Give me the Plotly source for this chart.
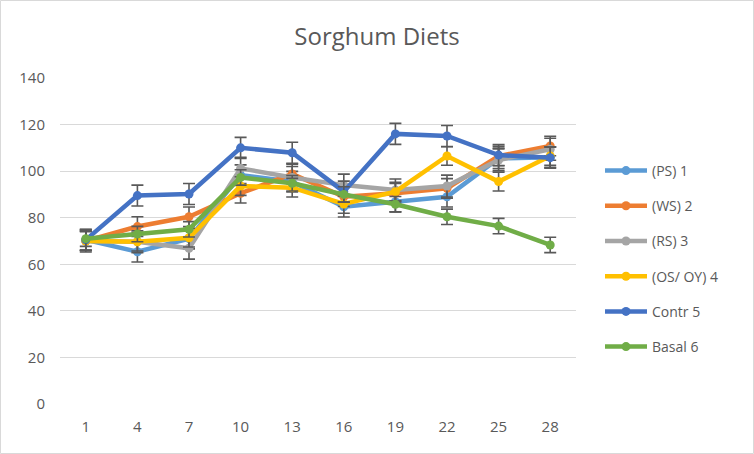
import plotly.graph_objects as go

days = ["1", "4", "7", "10", "13", "16", "19", "22", "25", "28"]
ps = [70.5, 65.4, 71.0, 98.3, 95.5, 84.7, 86.9, 89.0, 105.5, 106.0]
ws = [70.0, 76.2, 80.4, 90.5, 98.8, 89.0, 90.5, 92.6, 106.5, 110.8]
rs = [70.0, 69.7, 66.9, 101.2, 97.3, 94.0, 91.9, 93.6, 104.8, 109.4]
os_oy = [70.0, 69.7, 71.4, 93.6, 92.9, 85.9, 91.2, 106.5, 95.5, 106.5]
contr = [70.5, 89.5, 90.2, 110.0, 107.9, 91.2, 116.0, 115.1, 106.9, 105.8]
basal = [71.0, 73.0, 75.0, 97.3, 94.8, 90.0, 85.8, 80.4, 76.4, 68.3]
names = ["(PS) 1", "(WS) 2", "(RS) 3", "(OS/ OY) 4", "Contr 5", "Basal 6"]
errors = [4.4, 4.2, 4.7, 4.0, 4.5, 3.3]

series = [ps, ws, rs, os_oy, contr, basal]
colors = ["#5B9BD5", "#ED7D31", "#A5A5A5", "#FFC000", "#4472C4", "#70AD47"]

fig = go.Figure()
for i, (name, vals, col, err) in enumerate(zip(names, series, colors, errors)):
    fig.add_trace(go.Scatter(
        x=days, y=vals, name=name, mode="lines+markers",
        line=dict(color=col, width=4.5),
        marker=dict(color=col, size=9, symbol="circle"),
        error_y=dict(type="constant", value=err, color="#595959",
                     thickness=1.6, width=6),
        legendgroup=f"g{i}",
    ))

W, H = 754, 454
L, R, T, B = 60, 178, 78, 50
pw, ph = W - L - R, H - T - B

fig.update_layout(
    width=W, height=H, autosize=False,
    margin=dict(l=L, r=R, t=T, b=B, autoexpand=False),
    paper_bgcolor="white", plot_bgcolor="white",
    font=dict(family="Open Sans, Liberation Sans, sans-serif", color="#595959"),
    title=dict(text="Sorghum Diets", x=0.5, xref="container", xanchor="center",
               y=1 - 37 / H, yref="container", yanchor="middle",
               font=dict(size=24, color="#595959")),
    xaxis=dict(type="category", range=[-0.5, len(days) - 0.5], showgrid=False,
               zeroline=False, showline=False, ticks="", automargin=False,
               tickfont=dict(size=15, color="#595959"), ticklabelstandoff=12),
    yaxis=dict(range=[0, 140], dtick=20, showgrid=True, gridcolor="#D9D9D9",
               gridwidth=1.3, zeroline=False, showline=False, ticks="", automargin=False,
               tickfont=dict(size=15, color="#595959"), ticklabelstandoff=14),
    legend=dict(x=(600 - L) / pw, xanchor="left", y=(H - B - 155) / ph,
                yanchor="top", font=dict(size=14, color="#595959"),
                itemwidth=42,
                tracegroupgap=14, traceorder="grouped", bgcolor="rgba(0,0,0,0)"),
    showlegend=True,
)

fig.add_shape(type="rect", xref="paper", yref="paper",
              x0=(0.5 - L) / pw, x1=(W - 0.5 - L) / pw,
              y0=(0.5 - B) / ph, y1=(H - 0.5 - B) / ph,
              line=dict(color="#D9D9D9", width=1))

fig.write_html("out.html", config={"displayModeBar": False},
               post_script="document.body.style.margin='0';document.body.style.overflow='hidden';")
